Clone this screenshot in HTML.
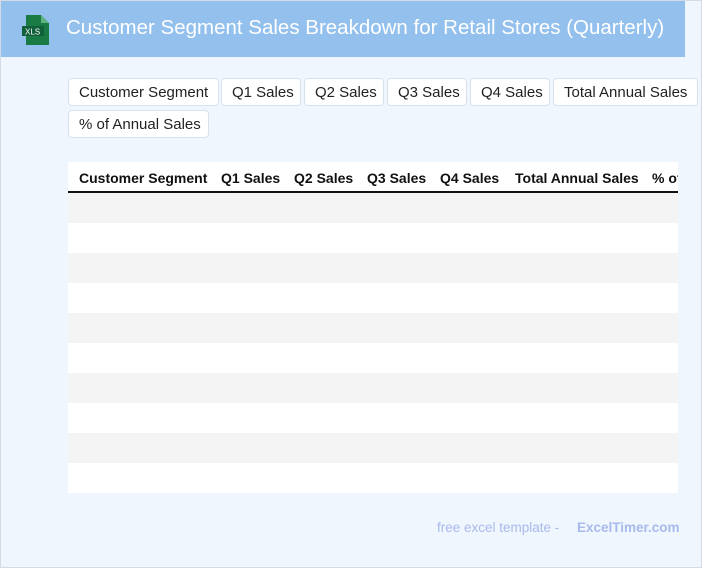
<!DOCTYPE html>
<html><head><style>
*{margin:0;padding:0;box-sizing:border-box}
body{width:702px;height:568px;overflow:hidden;background:#eff6fe;font-family:"Liberation Sans",sans-serif;position:relative}
#border{position:absolute;left:0;top:0;width:702px;height:568px;border:1px solid #d4dbe3;z-index:5;pointer-events:none}
#hdr{position:absolute;left:0;top:0;width:685px;height:57px;background:#93c0ec}
#hdr .t{position:absolute;left:66px;top:16px;color:#fff;font-size:20.5px;white-space:nowrap}
.btn{position:absolute;height:28px;background:#fff;border:1px solid #d8e2ee;border-radius:4px;font-size:15px;color:#222;line-height:28px;padding-left:10px;white-space:nowrap}
#tbl{position:absolute;left:68px;top:162px;width:610px;height:331px;background:#fff;overflow:hidden}
.th{position:absolute;top:8px;font-weight:bold;font-size:14px;color:#111;white-space:nowrap}
.line{position:absolute;left:0;top:29px;width:610px;height:2px;background:#111}
.row{position:absolute;left:0;width:610px;height:30px}
.ft{position:absolute;top:520px;font-size:13.5px;color:#a8b9ec;white-space:nowrap}
</style></head><body>
<div id="hdr">
<svg style="position:absolute;left:20px;top:14px" width="32" height="32" viewBox="0 0 32 32">
<path d="M6 1h15l8 8v22H6z" fill="#1a7a43"/><path d="M21 1v8h8z" fill="#5fb37f"/>
<rect x="2" y="12" width="22" height="10" fill="#11603a"/>
<text x="5" y="20.5" font-size="8" fill="#fff" font-family="Liberation Sans">XLS</text>
</svg>
<div class="t">Customer Segment Sales Breakdown for Retail Stores (Quarterly)</div>
</div>
<div class="btn" style="left:68px;top:78px;width:151px">Customer Segment</div>
<div class="btn" style="left:221px;top:78px;width:80px">Q1 Sales</div>
<div class="btn" style="left:304px;top:78px;width:80px">Q2 Sales</div>
<div class="btn" style="left:387px;top:78px;width:80px">Q3 Sales</div>
<div class="btn" style="left:470px;top:78px;width:80px">Q4 Sales</div>
<div class="btn" style="left:553px;top:78px;width:145px">Total Annual Sales</div>
<div class="btn" style="left:68px;top:110px;width:141px">% of Annual Sales</div>
<div id="tbl">
<div class="th" style="left:11px">Customer Segment</div>
<div class="th" style="left:153px">Q1 Sales</div>
<div class="th" style="left:226px">Q2 Sales</div>
<div class="th" style="left:299px">Q3 Sales</div>
<div class="th" style="left:372px">Q4 Sales</div>
<div class="th" style="left:447px">Total Annual Sales</div>
<div class="th" style="left:584px">% of Annual Sales</div>
<div class="line"></div>
<div class="row" style="top:31px;background:#f4f4f4"></div>
<div class="row" style="top:91px;background:#f4f4f4"></div>
<div class="row" style="top:151px;background:#f4f4f4"></div>
<div class="row" style="top:211px;background:#f4f4f4"></div>
<div class="row" style="top:271px;background:#f4f4f4"></div>
</div>
<div class="ft" style="left:437px">free excel template -</div>
<div class="ft" style="left:577px;font-weight:bold">ExcelTimer.com</div>
<div id="border"></div>
</body></html>
